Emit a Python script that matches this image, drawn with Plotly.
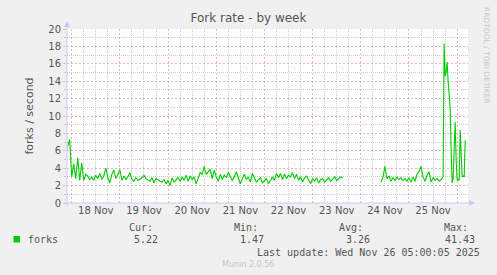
import pandas as pd
import plotly.graph_objects as go

# ---- data (forks / second) ----
# hourly samples from 2025-11-17 22:00 to 2025-11-25 17:00 (None = no data)
hourly_start = "2025-11-17 22:00"
hourly_values = [
    6.5, 7.3, 3.0, 4.5, 2.8, 5.2, 2.6, 4.6, 2.6, 3.3,
    3.1, 2.7, 3.0, 2.6, 3.2, 2.8, 3.4, 2.7, 3.1, 4.0,
    2.9, 2.3, 3.3, 3.8, 2.8, 3.4, 3.8, 2.6, 3.1, 2.7,
    3.0, 3.5, 2.7, 2.5, 2.9, 2.6, 2.7, 2.9, 3.2, 2.8,
    2.6, 2.5, 2.9, 2.3, 2.8, 2.6, 2.5, 2.4, 2.7, 2.2,
    2.6, 2.0, 2.9, 2.4, 2.6, 2.9, 2.5, 3.0, 2.6, 3.2,
    2.5, 3.1, 2.7, 3.0, 2.2, 2.9, 3.5, 3.3, 4.2, 3.3,
    3.6, 3.9, 2.8, 3.8, 3.0, 2.5, 3.3, 2.7, 3.2, 2.9,
    3.5, 3.0, 2.6, 3.0, 3.6, 2.9, 2.2, 2.8, 3.3, 2.7,
    3.0, 2.4, 3.4, 2.9, 2.4, 2.7, 2.9, 2.3, 2.5, 2.8,
    2.2, 2.6, 3.0, 2.6, 3.4, 2.9, 3.4, 2.7, 3.3, 2.8,
    3.2, 3.0, 3.5, 2.8, 3.3, 2.6, 3.0, 2.4, 2.9, 3.1,
    2.6, 2.2, 2.8, 2.5, 2.9, 2.3, 2.7, 2.8, 2.4, 2.6,
    2.9, 2.5, 2.7, 3.0, 2.6, 2.8, 3.0, 2.9, None, None,
    None, None, None, None, None, None, None, None, None, None,
    None, None, None, None, None, None, 2.4, 2.9, 4.2, 2.8,
    3.1, 2.5, 2.9, 2.6, 3.0, 2.7, 2.9, 2.6, 2.8, 2.5,
    2.9, 2.4, 3.0, 2.5, 3.3, 3.6, 4.2, 3.0, 2.5, 3.2,
    3.6, 2.4, 2.9, 2.6, 2.8, 2.5, 2.7, 3.0,
]
# half-hourly samples from 2025-11-25 17:30 to 2025-11-26 04:30
halfhour_start = "2025-11-25 17:30"
halfhour_values = [
    18.3, 14.6, 15.0, 16.2, 14.0, 12.0, 11.0, 6.0, 2.3, 2.8,
    6.5, 9.3, 5.0, 2.6, 2.7, 2.6, 8.4, 5.0, 3.0, 3.1,
    3.0, 7.2,
]

series_name = "forks"
stats_labels = ["Cur:", "Min:", "Avg:", "Max:"]
stats_values = ["5.22", "1.47", "3.26", "41.43"]
title_text = "Fork rate - by week"
y_title = "forks / second"
last_update = "Last update: Wed Nov 26 05:00:05 2025"
footer = "Munin 2.0.56"
side_text = "RRDTOOL / TOBI OETIKER"

times = list(pd.date_range(hourly_start, periods=len(hourly_values), freq="1h")) + \
        list(pd.date_range(halfhour_start, periods=len(halfhour_values), freq="30min"))
values = hourly_values + halfhour_values

# ---- layout helpers (pixel -> paper) ----
W, H = 497, 275
L, R, T, B = 67, 468, 29, 203


def px(x):
    return (x - L) / (R - L)


def py(y):
    return (B - y) / (B - T)


GREEN = "#00CC00"
TXT = "#555555"
AXIS = "#C8C8F5"
MAJ = "rgba(230,120,120,0.55)"
MIN = "#CCCCCC"
MAJ_DASH = "2px,2px"
MIN_DASH = "1px,1px"

fig = go.Figure()
fig.add_trace(go.Scatter(x=times, y=values, mode="lines",
                         line=dict(color=GREEN, width=1.1),
                         connectgaps=False, showlegend=False, hoverinfo="skip"))

fig.update_layout(
    width=W, height=H,
    margin=dict(l=L, r=W - R, t=T, b=H - B),
    paper_bgcolor="#F0F0F0", plot_bgcolor="#FFFFFF",
    title=dict(text=title_text, x=0.5, xanchor="center", y=1 - 18 / H, yanchor="middle",
               font=dict(family="DejaVu Sans", size=12, color=TXT)),
    xaxis=dict(type="date", range=["2025-11-17 21:40", "2025-11-26 05:24"],
               tick0="2025-11-18", dtick=86400000, tickformat="%d %b",
               ticklabelmode="period", showgrid=True, gridcolor=MAJ, griddash=MAJ_DASH,
               gridwidth=1, zeroline=False, showline=False, ticks="",
               tickfont=dict(family="DejaVu Sans", size=10, color=TXT),
               minor=dict(dtick=6 * 3600000, showgrid=True, gridcolor=MIN,
                          griddash=MIN_DASH, gridwidth=1)),
    yaxis=dict(range=[0, 20], dtick=2, tick0=0, showgrid=True, gridcolor=MAJ,
               griddash=MAJ_DASH, gridwidth=1, zeroline=False, showline=False,
               ticks="outside", ticklen=3, tickcolor="#C8C8C8",
               tickfont=dict(family="DejaVu Sans", size=10, color=TXT),
               title=dict(text=y_title, standoff=12,
                          font=dict(family="DejaVu Sans", size=11, color=TXT)),
               minor=dict(dtick=1, showgrid=True, gridcolor=MIN, griddash=MIN_DASH,
                          gridwidth=1, ticks="outside", ticklen=2, tickcolor="#C8C8C8")),
)

# axis lines with arrow heads (decoration)
shapes = [
    dict(type="line", xref="paper", yref="paper", x0=0, x1=0, y0=py(B + 3), y1=py(25),
         line=dict(color=AXIS, width=1)),
    dict(type="line", xref="paper", yref="paper", x0=px(L - 3), x1=px(471), y0=0, y1=0,
         line=dict(color=AXIS, width=1)),
    dict(type="path", xref="paper", yref="paper",
         path=f"M {px(L-3)},{py(27)} L {px(L+3)},{py(27)} L {px(L)},{py(21)} Z",
         fillcolor=AXIS, line=dict(color=AXIS, width=0)),
    dict(type="path", xref="paper", yref="paper",
         path=f"M {px(469)},{py(B-3)} L {px(469)},{py(B+3)} L {px(475)},{py(B)} Z",
         fillcolor=AXIS, line=dict(color=AXIS, width=0)),
    # legend colour box
    dict(type="rect", xref="paper", yref="paper", x0=px(13.5), x1=px(20), y0=py(242.5), y1=py(236),
         fillcolor=GREEN, line=dict(width=0)),
]
fig.update_layout(shapes=shapes)

mono = dict(family="DejaVu Sans Mono", size=10, color=TXT)
ann = []


def add_text(text, x, y, xanchor="left", font=mono, **kw):
    ann.append(dict(text=text, xref="paper", yref="paper", x=px(x), y=py(y),
                    xanchor=xanchor, yanchor="middle", showarrow=False, font=font, **kw))


add_text(series_name, 26, 239)
label_right = [155, 260, 365, 470]
value_right = [160, 266, 372, 477]
for lab, val, lr, vr in zip(stats_labels, stats_values, label_right, value_right):
    add_text(lab, lr, 227, xanchor="right")
    add_text(val, vr, 239, xanchor="right")
add_text(last_update, 482, 252, xanchor="right")
add_text(footer, 248, 264, xanchor="center",
         font=dict(family="DejaVu Sans", size=8, color="#C8C8C8"))
add_text(side_text, 487, 55, xanchor="center",
         font=dict(family="DejaVu Sans", size=7.5, color="#C8C8C8"), textangle=90)
fig.update_layout(annotations=ann)

fig.write_html("out.html")
